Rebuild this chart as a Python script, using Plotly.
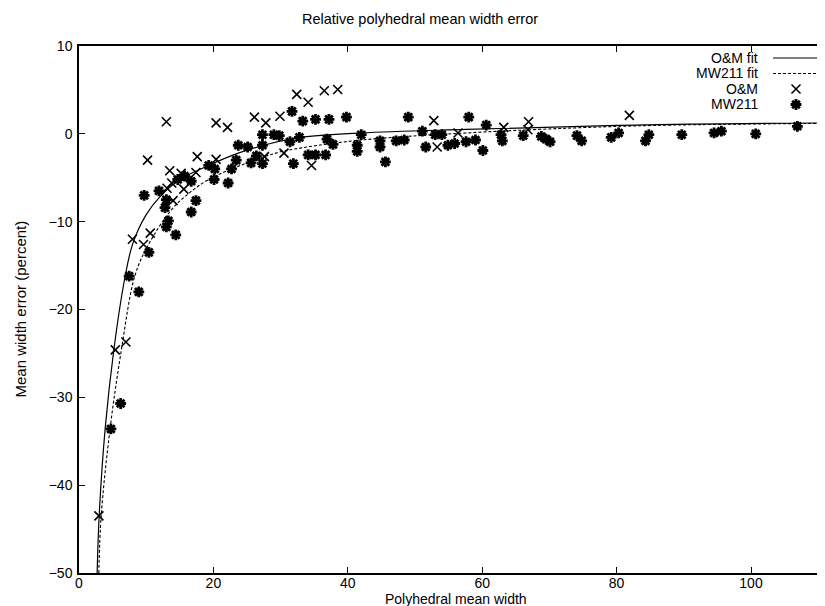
import plotly.graph_objects as go

# ---- data ----
om_x = [2.96, 5.4, 6.98, 7.95, 9.6, 10.6, 10.2, 13.0, 13.1, 13.5, 13.8, 14.0, 15.2, 15.6,
        17.4, 17.6, 20.4, 20.4, 22.1, 26.1, 27.6, 27.8, 29.9, 30.5, 32.4, 34.1, 34.6, 36.5,
        38.5, 52.8, 53.3, 56.4, 63.2, 66.8, 66.9, 81.9]
om_y = [-43.5, -24.6, -23.7, -12.0, -12.6, -11.3, -3.0, 1.37, -6.2, -4.2, -5.6, -7.6, -4.5, -6.3,
        -4.4, -2.6, 1.25, -2.9, 0.74, 1.9, -2.6, 1.25, 2.0, -2.2, 4.5, 3.6, -3.6, 4.9,
        5.05, 1.5, -1.5, 0.1, 0.74, 0.47, 1.37, 2.1]

mw_x = [4.75, 6.2, 7.46, 8.9, 9.7, 10.4, 11.9, 12.8, 13.0, 13.3, 13.0, 14.4, 14.7, 15.7,
        16.7, 16.7, 17.4, 19.3, 20.1, 20.2, 22.2, 22.7, 23.4, 23.7, 25.1, 25.6, 26.4, 27.3,
        27.3, 27.3, 29.0, 29.8, 31.4, 31.7, 31.9, 32.8, 33.3, 34.1, 35.2, 35.2, 36.7, 36.9,
        37.2, 37.8, 39.8, 41.4, 41.4, 42.0, 44.8, 44.8, 45.6, 47.2, 48.4, 49.0, 51.1, 51.6,
        53.0, 54.0, 54.9, 55.9, 57.6, 58.0, 59.0, 60.1, 60.6, 62.8, 63.0, 66.1, 68.8, 69.5,
        70.1, 74.1, 74.8, 79.2, 80.3, 84.3, 84.8, 89.7, 94.5, 95.6, 100.7, 106.9]
mw_y = [-33.6, -30.7, -16.2, -18.0, -7.0, -13.5, -6.5, -8.4, -7.5, -9.9, -10.6, -11.5, -5.2, -4.8,
        -5.4, -8.9, -7.6, -3.6, -5.2, -4.0, -5.6, -4.0, -3.0, -1.3, -1.5, -3.3, -2.5, -0.1,
        -1.3, -3.4, -0.1, -0.2, -0.9, 2.55, -3.4, -0.4, 1.45, -2.4, 1.65, -2.4, -2.4, -0.6,
        1.65, -1.2, 1.9, -1.3, -2.0, -0.1, -0.8, -1.5, -3.2, -0.8, -0.7, 1.9, 0.3, -1.5,
        -0.1, -0.1, -1.3, -1.1, -0.9, 1.9, -0.7, -1.9, 1.0, -0.1, -0.8, -0.2, -0.3, -0.6,
        -0.9, -0.2, -0.8, -0.4, 0.1, -0.8, -0.1, -0.1, 0.1, 0.3, 0.0, 0.86]

# fit curves
om_fit_x = [2.7, 3.0, 3.9, 5.2, 6.8, 8.0, 10.0, 12.0, 15.0, 19.3, 23.7, 28.5, 33.0, 42.0, 57.6, 82.6, 113.0]
om_fit_y = [-50, -43.5, -33.5, -24.5, -16.5, -12.5, -9.2, -7.2, -5.2, -3.6, -2.2, -1.1, -0.4, 0.1, 0.5, 1.0, 1.25]
mw_fit_x = [2.95, 3.3, 4.65, 6.35, 8.3, 10.2, 13.7, 16.3, 19.3, 24.7, 29.5, 33.1, 42.1, 57.6, 82.6, 113.0]
mw_fit_y = [-50, -43.5, -33.4, -24.4, -16.2, -12.8, -8.7, -6.8, -5.2, -3.4, -2.15, -1.6, -0.7, 0.1, 0.9, 1.2]

x_ticks = [0, 20, 40, 60, 80, 100]
y_ticks = [10, 0, -10, -20, -30, -40, -50]
series_names = ["O&M fit", "MW211 fit", "O&M", "MW211"]
title_text = "Relative polyhedral mean width error"
x_title = "Polyhedral mean width"
y_title = "Mean width error (percent)"

FONT = "Liberation Sans, Arial, Helvetica, sans-serif"
W, H = 825, 606
L, T, B, R = 71, 38, 41, 0
PW, PH = W - L - R, H - T - B
XPX = 6.72  # pixels per x unit


def px(x):
    return (x - L) / PW


def py(y):
    return (H - B - y) / PH


fig = go.Figure()
fig.add_trace(go.Scatter(x=om_fit_x, y=om_fit_y, mode="lines", line=dict(color="black", width=1.2, shape="spline"),
                         name=series_names[0], showlegend=False))
fig.add_trace(go.Scatter(x=mw_fit_x, y=mw_fit_y, mode="lines",
                         line=dict(color="black", width=1.1, shape="spline", dash="3px,2px"),
                         name=series_names[1], showlegend=False))
fig.add_trace(go.Scatter(x=om_x, y=om_y, mode="markers", name=series_names[2], showlegend=False,
                         marker=dict(symbol="x-thin-open", size=9, color="black", line=dict(color="black", width=1.6))))
fig.add_trace(go.Scatter(x=mw_x, y=mw_y, mode="markers", name=series_names[3], showlegend=False,
                         marker=dict(symbol="asterisk-open", size=9, color="black", line=dict(color="black", width=2.8))))

# legend (gnuplot style: text, then sample to the right)
rows = [50, 65.5, 81, 96.5]
shapes = []
annotations = []
for i, name in enumerate(series_names):
    annotations.append(dict(text=name, x=px(752), y=py(rows[i]), xref="paper", yref="paper",
                            xanchor="right", yanchor="middle", showarrow=False,
                            font=dict(family=FONT, size=14, color="black")))
shapes.append(dict(type="line", xref="paper", yref="paper", x0=px(765), x1=px(812),
                   y0=py(rows[0]), y1=py(rows[0]), line=dict(color="black", width=1.2)))
shapes.append(dict(type="line", xref="paper", yref="paper", x0=px(765), x1=px(812),
                   y0=py(rows[1]), y1=py(rows[1]), line=dict(color="black", width=1.1, dash="3px,2px")))
fig.add_trace(go.Scatter(x=[px(788)], y=[py(rows[2])], xaxis="x2", yaxis="y2", mode="markers",
                         showlegend=False, hoverinfo="skip",
                         marker=dict(symbol="x-thin-open", size=9, color="black", line=dict(color="black", width=1.6))))
fig.add_trace(go.Scatter(x=[px(788)], y=[py(rows[3])], xaxis="x2", yaxis="y2", mode="markers",
                         showlegend=False, hoverinfo="skip",
                         marker=dict(symbol="asterisk-open", size=9, color="black", line=dict(color="black", width=2.8))))

# axis titles
annotations.append(dict(text=x_title, xref="paper", x=px(448), yref="paper", y=py(591),
                        xanchor="center", yanchor="middle", showarrow=False,
                        font=dict(family=FONT, size=14, color="black")))
annotations.append(dict(text=y_title, xref="paper", x=px(12), yref="paper", y=0.5, textangle=-90,
                        xanchor="center", yanchor="middle", showarrow=False,
                        font=dict(family=FONT, size=15, color="black")))

fig.update_layout(
    width=W, height=H,
    margin=dict(l=L, r=R, t=T, b=B, pad=0),
    paper_bgcolor="white", plot_bgcolor="white",
    font=dict(family=FONT, size=14, color="black"),
    title=dict(text=title_text, xref="paper", x=px(412), xanchor="center",
               yref="container", y=1 - 11 / H, yanchor="middle",
               font=dict(family=FONT, size=14.5, color="black")),
    xaxis=dict(range=[0, PW / XPX], tickvals=x_ticks, ticks="inside", ticklen=6, tickcolor="black",
               showline=True, linecolor="black", linewidth=1.5, mirror="ticks", showgrid=False, zeroline=False,
               tickfont=dict(family=FONT, size=14), ticklabelstandoff=-4),
    yaxis=dict(range=[-50, 10], tickvals=y_ticks, ticks="inside", ticklen=6, tickcolor="black",
               showline=True, linecolor="black", linewidth=1.5, mirror=False, showgrid=False, zeroline=False,
               tickfont=dict(family=FONT, size=14), ticklabelstandoff=2),
    xaxis2=dict(range=[0, 1], overlaying="x", visible=False, fixedrange=True),
    yaxis2=dict(range=[0, 1], overlaying="y", visible=False, fixedrange=True),
    shapes=shapes,
    annotations=annotations,
)

fig.write_html("out.html")
